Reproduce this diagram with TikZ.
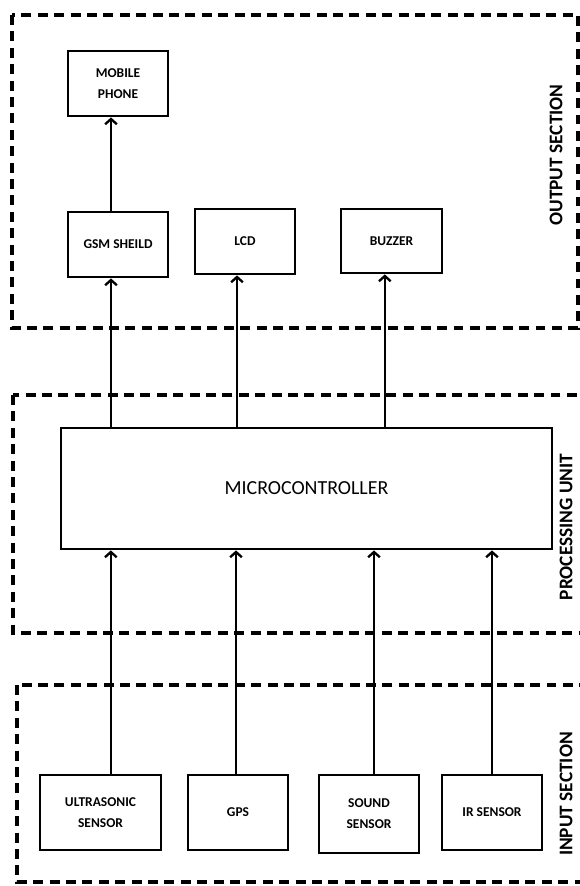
\documentclass[tikz,border=0pt]{standalone}
\usepackage{fontspec}
\setmainfont{Carlito}
\usepackage{tikz}
\usetikzlibrary{arrows.meta}
\usetikzlibrary{calc}

\tikzset{
  block/.style={draw, line width=2.4pt, align=center, inner sep=0pt,
    font=\fontsize{11.5}{18}\selectfont\bfseries},
  sect/.style={line width=2.6pt, dash pattern=on 8.5pt off 5.5pt},
  seclabel/.style={rotate=90, inner sep=0pt,
    font=\fontsize{16.5}{18}\selectfont\bfseries},
  arr/.style={-{Straight Barb[length=4.5pt,width=10pt,line width=2pt]}, line width=2pt}
}

\begin{document}
\begin{tikzpicture}[x=0.03cm, y=-0.03cm]

        \useasboundingbox (0,0) rectangle (579,886);

        % dashed sections
        \draw[sect] (12,15) rectangle (578,328);
        \draw[sect] (13,395) rectangle (590,633);
        \draw[sect] (17,685) rectangle (590,882);

        \node[seclabel] (outlbl) at (556,155) {OUTPUT SECTION};
        \node[seclabel] (proclbl) at (566,527) {PROCESSING UNIT};
        \node[seclabel] (inlbl) at (566,794) {INPUT SECTION};

        % output section
        \node[block, minimum width=3cm, minimum height=1.95cm] (mobile) at
        (118,83.5) {MOBILE\\PHONE};
        \node[block, minimum width=3cm, minimum height=1.95cm] (gsm) at
        (118,244.5) {GSM SHEILD};
        \node[block, minimum width=3cm, minimum height=1.95cm] (lcd) at
        (245,241.5) {LCD};
        \node[block, minimum width=3.03cm, minimum height=1.92cm] (buzzer) at
        (391.5,241) {BUZZER};

        % processing unit
        \node[block, minimum width=14.73cm, minimum height=3.63cm,
        font=\fontsize{17}{20}\selectfont] (micro) at (306.5,488.5)
        {MICROCONTROLLER};

        % input section
        \node[block, minimum width=3.63cm, minimum height=2.25cm] (ultra) at
        (100.5,812.5) {ULTRASONIC\\SENSOR};
        \node[block, minimum width=3cm, minimum height=2.25cm] (gps) at
        (238,812.5) {GPS};
        \node[block, minimum width=3cm, minimum height=2.34cm] (sound) at
        (369,814) {SOUND\\SENSOR};
        \node[block, minimum width=3cm, minimum height=2.25cm] (ir) at
        (492,812.5) {IR SENSOR};

        % connectors
        \coordinate (mobin) at ([xshift=-0.21cm]mobile.south);
        \coordinate (gsmin) at ([xshift=-0.21cm]gsm.south);
        \coordinate (lcdin) at ([xshift=-0.24cm]lcd.south);
        \coordinate (buzin) at ([xshift=-0.2cm]buzzer.south);
        \draw[arr] (mobin |- gsm.north) -- (mobin);
        \draw[arr] (gsmin |- micro.north) -- (gsmin);
        \draw[arr] (lcdin |- micro.north) -- (lcdin);
        \draw[arr] (buzin |- micro.north) -- (buzin);

        \coordinate (ultraout) at ([xshift=0.31cm]ultra.north);
        \coordinate (gpsout) at ([xshift=-0.06cm]gps.north);
        \coordinate (soundout) at ([xshift=0.15cm]sound.north);
        \coordinate (irout) at (ir.north);
        \draw[arr] (ultraout) -- (ultraout |- micro.south);
        \draw[arr] (gpsout) -- (gpsout |- micro.south);
        \draw[arr] (soundout) -- (soundout |- micro.south);
        \draw[arr] (irout) -- (irout |- micro.south);
\end{tikzpicture}
\end{document}
